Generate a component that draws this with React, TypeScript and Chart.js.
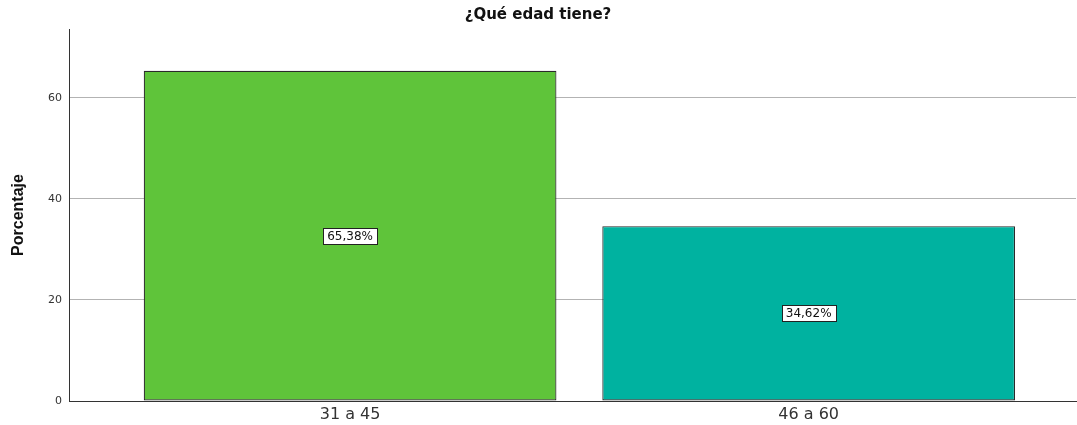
import React, { useEffect, useRef } from "react";
import { Chart, registerables } from "chart.js";

Chart.register(...registerables);

const chartTitle = "¿Qué edad tiene?";
const yAxisTitle = "Porcentaje";
const categories = ["31 a 45", "46 a 60"];
const percentages = [65.38, 34.62];
const valueLabels = ["65,38%", "34,62%"];
const barColors = ["#5fc43a", "#00b2a0"];
const yTickStep = 20;
const yMax = 73.66;

const valueLabelPlugin = {
  id: "valueLabels",
  afterDatasetsDraw(chart: any) {
    const ctx = chart.ctx;
    const meta = chart.getDatasetMeta(0);
    ctx.save();
    ctx.font = "12px 'DejaVu Sans', sans-serif";
    ctx.textAlign = "center";
    ctx.textBaseline = "middle";
    meta.data.forEach((bar: any, i: number) => {
      const { x, y, base } = bar.getProps(["x", "y", "base"], true);
      const cy = (y + base) / 2;
      const text = valueLabels[i];
      const w = Math.round(ctx.measureText(text).width + 8);
      const h = 16;
      const left = Math.round(x - w / 2) + 0.5;
      const top = Math.round(cy - h / 2) + 0.5;
      ctx.fillStyle = "#ffffff";
      ctx.fillRect(left, top, w, h);
      ctx.strokeStyle = "#222222";
      ctx.lineWidth = 1;
      ctx.strokeRect(left, top, w, h);
      ctx.fillStyle = "#111111";
      ctx.fillText(text, x, cy + 1);
    });
    ctx.restore();
  },
};

export default function App() {
  const canvasRef = useRef<HTMLCanvasElement | null>(null);

  useEffect(() => {
    document.body.style.margin = "0";
    const canvas = canvasRef.current;
    if (!canvas) return;
    const chart = new Chart(canvas, {
      type: "bar",
      data: {
        datasets: [
          {
            data: categories.map((_, i) => ({ x: i, y: percentages[i] })),
            backgroundColor: barColors,
            borderColor: "#2a2a2a",
            borderWidth: 1.2,
            borderSkipped: false,
            barPercentage: 0.9,
            categoryPercentage: 1,
          },
        ],
      },
      options: {
        responsive: false,
        animation: false,
        layout: { padding: { left: 0, right: 1, top: 0, bottom: 0 } },
        plugins: {
          legend: { display: false },
          tooltip: { enabled: false },
          title: {
            display: true,
            text: chartTitle,
            color: "#111111",
            font: { family: "'DejaVu Sans', sans-serif", size: 15, weight: "bold" },
            padding: { top: 6, bottom: 5 },
          },
        },
        scales: {
          x: {
            type: "linear",
            offset: false,
            min: -0.613,
            max: 1.583,
            grid: { display: false, drawTicks: false },
            border: { display: true, color: "#333333", width: 1 },
            afterBuildTicks: (scale: any) => {
              scale.ticks = categories.map((_, i) => ({ value: i }));
            },
            afterFit: (scale: any) => {
              scale.height = 24;
            },
            ticks: {
              autoSkip: false,
              maxRotation: 0,
              padding: 4,
              color: "#333333",
              font: { family: "'DejaVu Sans', sans-serif", size: 16 },
              callback: (v: any) => categories[v as number] ?? "",
            },
          },
          y: {
            type: "linear",
            min: 0,
            max: yMax,
            border: { display: true, color: "#333333", width: 1 },
            grid: {
              drawTicks: false,
              color: (ctx: any) => (ctx.tick && ctx.tick.value === 0 ? "rgba(0,0,0,0)" : "#b3b3b3"),
              lineWidth: 1,
            },
            afterFit: (scale: any) => {
              scale.width = 69;
            },
            title: {
              display: true,
              text: yAxisTitle,
              color: "#111111",
              font: { family: "'Liberation Sans', Arial, sans-serif", size: 16, weight: "bold" },
              padding: { top: 9, bottom: 0 },
            },
            ticks: {
              stepSize: yTickStep,
              includeBounds: false,
              padding: 7,
              color: "#333333",
              font: { family: "'DejaVu Sans', sans-serif", size: 11 },
            },
          },
        },
      },
      plugins: [valueLabelPlugin],
    } as any);
    return () => chart.destroy();
  }, []);

  return (
    <div style={{ position: "absolute", left: 0, top: 0, width: 1077, height: 425, background: "#ffffff" }}>
      <canvas ref={canvasRef} width={1077} height={425} />
    </div>
  );
}
